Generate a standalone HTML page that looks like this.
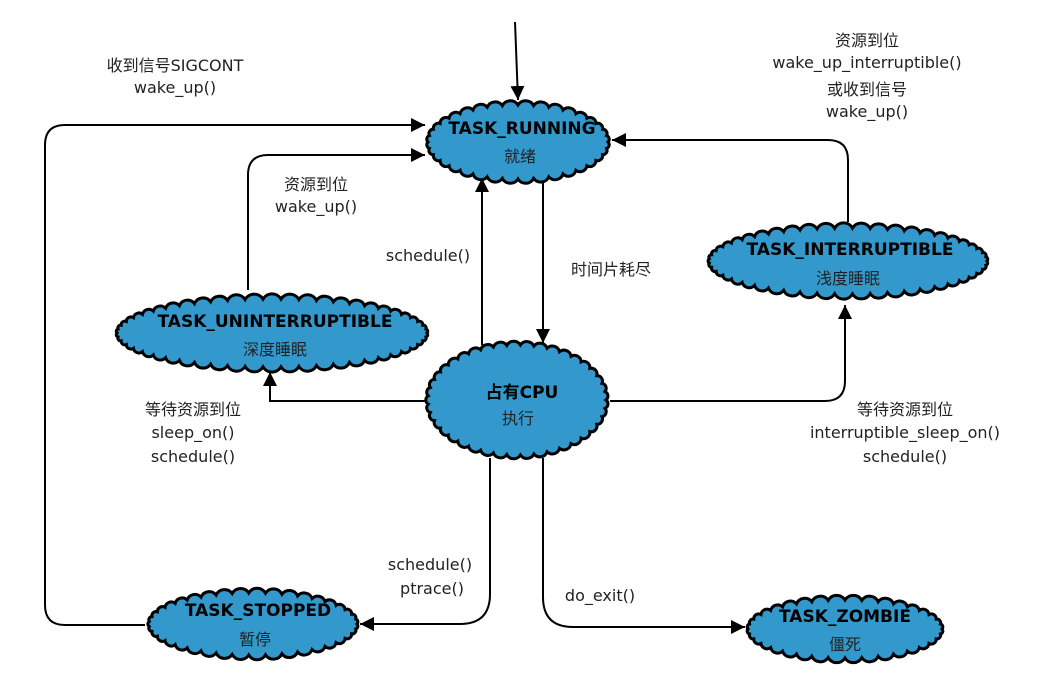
<!DOCTYPE html>
<html><head><meta charset="utf-8"><style>
html,body{margin:0;padding:0;background:#fff;}
svg{display:block}
text{font-family:"DejaVu Sans","Liberation Sans","Noto Sans CJK SC",sans-serif;fill:#111;}
.t{font-weight:bold;font-size:17px;text-anchor:middle;fill:#000}
.c{font-size:16px;text-anchor:middle;fill:#222}
.l{font-size:16px;text-anchor:middle;fill:#222}
.ln{fill:none;stroke:#000;stroke-width:2}
</style></head><body>
<svg id="s" width="1056" height="696" viewBox="0 0 1056 696">
<defs><marker id="a" viewBox="0 0 10 10" refX="10" refY="5" markerWidth="7" markerHeight="7" orient="auto" markerUnits="userSpaceOnUse"><path d="M0,0 L10,5 L0,10z" fill="#000"/></marker>
<marker id="b" viewBox="0 0 10 10" refX="10" refY="5" markerWidth="14" markerHeight="14" orient="auto" markerUnits="userSpaceOnUse"><path d="M0,0 L10,5 L0,10z" fill="#000"/></marker></defs>
<g class="ln" marker-end="url(#b)">
<path d="M515,22 L518,100"/>
<path d="M145,625 H65 Q45,625 45,605 V145 Q45,125 65,125 H425"/>
<path d="M248,290 V175 Q248,155 268,155 H425"/>
<path d="M482,345 V178"/>
<path d="M543,180 V343"/>
<path d="M848,222 V160 Q848,140 828,140 H612"/>
<path d="M425,401 H270 V372"/>
<path d="M610,401 H825 Q845,401 845,381 V305"/>
<path d="M490,458 V594 Q490,624 460,624 H360"/>
<path d="M543,458 V597 Q543,627 573,627 H745"/>
</g>
<g id="clouds" fill="#3399cc" stroke="#000" stroke-width="3">
<ellipse cx="518" cy="142" rx="93" ry="40"/>
<ellipse cx="517" cy="400" rx="92" ry="58"/>
<ellipse cx="848" cy="261" rx="142" ry="36"/>
<ellipse cx="272" cy="333" rx="158" ry="37"/>
<ellipse cx="253" cy="624" rx="107" ry="34"/>
<ellipse cx="845" cy="629" rx="100" ry="32"/>
</g>
<text class="t" x="522" y="134">TASK_RUNNING</text><text class="c" x="520" y="162">就绪</text>
<text class="t" x="522" y="398">占有CPU</text><text class="c" x="518" y="424">执行</text>
<text class="t" x="850" y="255">TASK_INTERRUPTIBLE</text><text class="c" x="848" y="284">浅度睡眠</text>
<text class="t" x="275" y="327">TASK_UNINTERRUPTIBLE</text><text class="c" x="275" y="355">深度睡眠</text>
<text class="t" x="258" y="616">TASK_STOPPED</text><text class="c" x="255" y="645">暂停</text>
<text class="t" x="845" y="622">TASK_ZOMBIE</text><text class="c" x="845" y="650">僵死</text>
<text class="l" x="175" y="71">收到信号SIGCONT</text><text class="l" x="175" y="93">wake_up()</text>
<text class="l" x="316" y="190">资源到位</text><text class="l" x="316" y="212">wake_up()</text>
<text class="l" x="428" y="261">schedule()</text>
<text class="l" x="611" y="275">时间片耗尽</text>
<text class="l" x="867" y="46">资源到位</text><text class="l" x="867" y="68">wake_up_interruptible()</text>
<text class="l" x="867" y="95">或收到信号</text><text class="l" x="867" y="117">wake_up()</text>
<text class="l" x="193" y="415">等待资源到位</text><text class="l" x="193" y="438">sleep_on()</text><text class="l" x="193" y="462">schedule()</text>
<text class="l" x="905" y="415">等待资源到位</text><text class="l" x="905" y="438">interruptible_sleep_on()</text><text class="l" x="905" y="462">schedule()</text>
<text class="l" x="430" y="570">schedule()</text><text class="l" x="432" y="594">ptrace()</text>
<text class="l" x="600" y="601">do_exit()</text>
</svg>
<script>
(function(){
var g=document.getElementById('clouds');var es=[].slice.call(g.querySelectorAll('ellipse'));
es.forEach(function(e){
var cx=+e.getAttribute('cx'),cy=+e.getAttribute('cy'),rx=+e.getAttribute('rx')-3,ry=+e.getAttribute('ry')-3;
var n=Math.round((rx+ry)*Math.PI/11);var pts=[];
for(var i=0;i<n;i++){var t=i/n*2*Math.PI;pts.push([cx+rx*Math.cos(t),cy+ry*Math.sin(t)]);}
var d='M'+pts[0][0].toFixed(1)+','+pts[0][1].toFixed(1);
for(var i=0;i<n;i++){var p=pts[i],q=pts[(i+1)%n];var r=Math.hypot(q[0]-p[0],q[1]-p[1])/2*1.15;
d+=' A'+r.toFixed(1)+','+r.toFixed(1)+' 0 0 1 '+q[0].toFixed(1)+','+q[1].toFixed(1);}
d+='Z';var p=document.createElementNS('http://www.w3.org/2000/svg','path');p.setAttribute('d',d);
g.replaceChild(p,e);});
})();
</script>
</body></html>
